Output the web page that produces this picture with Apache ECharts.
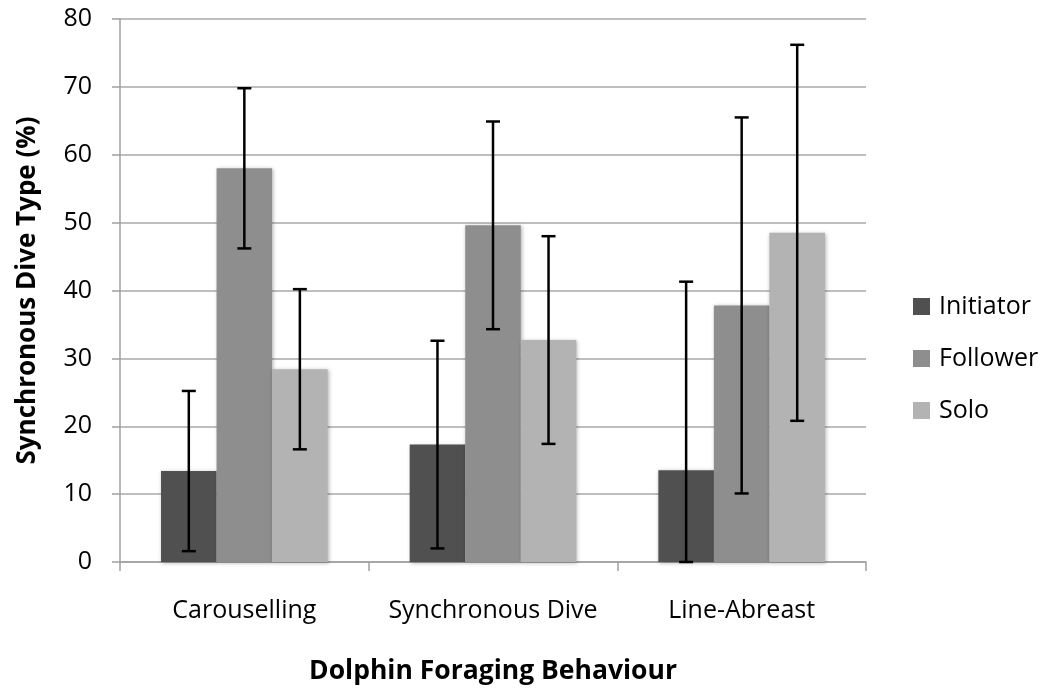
<!DOCTYPE html>
<html>
<head>
<meta charset="utf-8">
<script src="https://cdn.jsdelivr.net/npm/echarts@6/dist/echarts.min.js"></script>
<style>
  html, body { margin: 0; padding: 0; background: #fff; }
  #chart { width: 1047px; height: 690px; }
</style>
</head>
<body>
<div id="chart"></div>
<script>
// categories and series values (%)
const categories = ["Carouselling", "Synchronous Dive", "Line-Abreast"];
const seriesNames = ["Initiator", "Follower", "Solo"];
const initiator = [13.4, 17.3, 13.5];
const follower = [58.0, 49.6, 37.8];
const solo = [28.4, 32.7, 48.5];
// error bar half-lengths per category
const initiatorErr = [11.8, 15.3, 27.8];
const followerErr = [11.8, 15.3, 27.7];
const soloErr = [11.8, 15.3, 27.7];

const colors = ["#505050", "#8e8e8e", "#b3b3b3"];
const font = "Open Sans";
const catGap = 0.33;

const values = [initiator, follower, solo];
const errors = [initiatorErr, followerErr, soloErr];

// error bar data: [categoryIndex, low, high]
function errData(i) {
  return values[i].map(function (v, k) {
    return [k, Math.max(0, v - errors[i][k]), v + errors[i][k]];
  });
}

function errRender(seriesIdx) {
  return function (params, api) {
    const k = api.value(0);
    const lo = api.coord([k, api.value(1)]);
    const hi = api.coord([k, api.value(2)]);
    const catW = api.size([1, 0])[0];
    const barW = catW * (1 - catGap) / 3;
    const x = lo[0] + (seriesIdx - 1) * barW;
    const cap = 7;
    const style = { stroke: "#000", lineWidth: 2.5 };
    return {
      type: "group",
      children: [
        { type: "line", shape: { x1: x, y1: lo[1], x2: x, y2: hi[1] }, style: style },
        { type: "line", shape: { x1: x - cap, y1: hi[1], x2: x + cap, y2: hi[1] }, style: style },
        { type: "line", shape: { x1: x - cap, y1: lo[1], x2: x + cap, y2: lo[1] }, style: style }
      ]
    };
  };
}

const chart = echarts.init(document.getElementById("chart"));

const series = [];
seriesNames.forEach(function (name, i) {
  series.push({
    name: name,
    type: "bar",
    data: values[i],
    barGap: "0%",
    barCategoryGap: catGap * 100 + "%",
    itemStyle: {
      color: colors[i],
      shadowColor: "rgba(0,0,0,0.3)",
      shadowBlur: 4,
      shadowOffsetX: 1,
      shadowOffsetY: 1
    },
    z: 2
  });
});
seriesNames.forEach(function (name, i) {
  series.push({
    type: "custom",
    renderItem: errRender(i),
    data: errData(i),
    encode: { x: 0, y: [1, 2] },
    z: 5,
    silent: true
  });
});

chart.setOption({
  animation: false,
  textStyle: { fontFamily: font },
  grid: { left: 120, right: 181, top: 19, bottom: 126 },
  legend: {
    data: seriesNames,
    orient: "vertical",
    left: 908,
    top: 289,
    itemWidth: 17,
    itemHeight: 17,
    itemGap: 27,
    icon: "rect",
    textStyle: { fontSize: 25, color: "#000", fontFamily: font, padding: [0, 0, 0, 4] }
  },
  xAxis: {
    type: "category",
    data: categories,
    name: "Dolphin Foraging Behaviour",
    nameLocation: "middle",
    nameGap: 96,
    nameTextStyle: { fontSize: 26.5, fontWeight: "bold", color: "#000", fontFamily: font },
    axisLine: { lineStyle: { color: "#a0a0a0", width: 1.5 } },
    axisTick: { show: true, length: 9, lineStyle: { color: "#a0a0a0", width: 1.5 } },
    axisLabel: { fontSize: 25, color: "#000", margin: 36, interval: 0, hideOverlap: false }
  },
  yAxis: {
    type: "value",
    min: 0,
    max: 80,
    interval: 10,
    name: "Synchronous Dive Type (%)",
    nameLocation: "middle",
    nameGap: 79,
    nameTextStyle: { fontSize: 26, fontWeight: "bold", color: "#000", fontFamily: font },
    axisLine: { show: true, lineStyle: { color: "#a0a0a0", width: 1.5 } },
    axisTick: { show: true, length: 8, lineStyle: { color: "#a0a0a0", width: 1.5 } },
    axisLabel: { fontSize: 25, color: "#000", margin: 28 },
    splitLine: { lineStyle: { color: "#a8a8a8", width: 1.5 } }
  },
  series: series
});
</script>
</body>
</html>
